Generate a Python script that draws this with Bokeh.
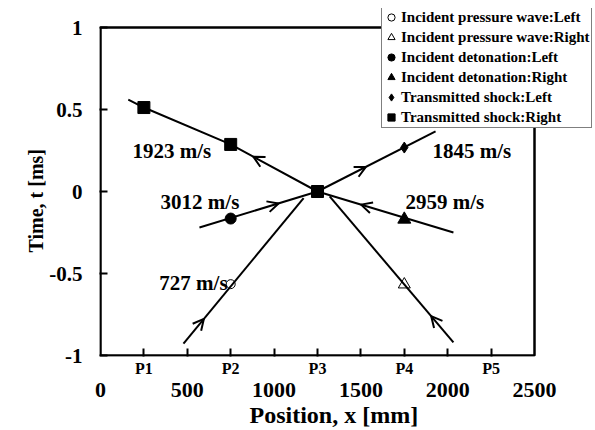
from bokeh.plotting import figure
from bokeh.models import (LinearAxis, FixedTicker, Legend, LegendItem, Arrow,
                          OpenHead, Range1d, Title, BoxAnnotation)
from bokeh.core.properties import value
from bokeh.embed import file_html
from bokeh.resources import INLINE

FONT = "Liberation Serif"

# ---------------- data ----------------
gauge_pos = [250, 750, 1250, 1750, 2250]
gauge_labels = ["P1", "P2", "P3", "P4", "P5"]
x_num_ticks = [0, 500, 1000, 1500, 2000, 2500]
y_ticks = [-1, -0.5, 0, 0.5, 1]
y_tick_labels = ["-1", "-0.5", "0", "0.5", "1"]

# measured points (x in mm, t in ms)
ipw_left_x = [750];  ipw_left_t = [-0.565]
ipw_right_x = [1750]; ipw_right_t = [-0.567]
det_left_x = [750];  det_left_t = [-0.165]
det_right_x = [1750]; det_right_t = [-0.17]
ts_left_x = [1750];  ts_left_t = [0.268]
ts_right_x = [250, 750, 1250]; ts_right_t = [0.512, 0.287, 0.0]

# wave trajectories
line_ts_right_x = [160, 250, 750, 1250]; line_ts_right_t = [0.56, 0.512, 0.287, 0.0]
line_ts_left_x = [1250, 1930];  line_ts_left_t = [0.0, 0.366]
line_det_left_x = [570, 1250];  line_det_left_t = [-0.22, 0.0]
line_det_right_x = [2033, 1250]; line_det_right_t = [-0.25, 0.0]
line_ipw_left_x = [478, 1170];  line_ipw_left_t = [-0.927, -0.04]
line_ipw_right_x = [2033, 1320]; line_ipw_right_t = [-0.92, -0.03]

speed_labels = ["1923 m/s", "3012 m/s", "727 m/s", "1845 m/s", "2959 m/s"]

x_min, x_max = x_num_ticks[0], x_num_ticks[-1]
y_min, y_max = y_ticks[0], y_ticks[-1]

# ---------------- layout (pixels) ----------------
W, H = 595, 430
box_l, box_r, box_t, box_b = 100, 534, 27, 355      # visible axes box
fr_l, fr_r, fr_t, fr_b = 99, 593, 8, 356            # plotting frame (room for legend)
sx = (box_r - box_l) / (x_max - x_min)
sy = (box_b - box_t) / (y_max - y_min)

p = figure(width=W, height=H,
           x_range=Range1d(x_min - (box_l - fr_l) / sx, x_max + (fr_r - box_r) / sx),
           y_range=Range1d(y_min - (fr_b - box_b) / sy, y_max + (box_t - fr_t) / sy),
           output_backend="svg", toolbar_location=None,
           x_axis_type=None, y_axis_type=None,
           min_border_left=fr_l, min_border_right=W - fr_r,
           min_border_top=fr_t, min_border_bottom=H - fr_b)
p.grid.visible = False
p.outline_line_color = None
p.background_fill_color = "white"
p.border_fill_color = "white"

p.add_layout(BoxAnnotation(left=x_min, right=x_max, bottom=y_min, top=y_max,
                           fill_alpha=0, line_color="black", line_alpha=1,
                           line_width=2.5))

def style_axis(ax, size):
    ax.major_label_text_font = FONT
    ax.major_label_text_font_style = "bold"
    ax.major_label_text_font_size = size
    ax.major_label_text_color = "black"
    ax.axis_line_color = None
    ax.minor_tick_line_color = None
    ax.major_tick_line_color = "black"
    ax.major_tick_line_width = 2
    ax.major_tick_in = 8
    ax.major_tick_out = 0

xa1 = LinearAxis(ticker=FixedTicker(ticks=[250 * i for i in range(1, 10)]))
style_axis(xa1, "16px")
overrides = {250 * i: "" for i in range(1, 10)}
overrides.update({g: l for g, l in zip(gauge_pos, gauge_labels)})
xa1.major_label_overrides = overrides
xa1.major_label_standoff = 3
p.add_layout(xa1, "below")

xa2 = LinearAxis(ticker=FixedTicker(ticks=x_num_ticks))
style_axis(xa2, "22px")
xa2.major_tick_line_color = None
xa2.major_tick_in = 0
xa2.major_label_standoff = 3
p.add_layout(xa2, "below")

ya = LinearAxis(ticker=FixedTicker(ticks=y_ticks))
style_axis(ya, "21px")
ya.major_label_overrides = {t: l for t, l in zip(y_ticks, y_tick_labels)}
ya.major_label_standoff = 17
p.add_layout(ya, "left")

# axis titles
p.add_layout(Title(text="Position, x  [mm]", align="left", offset=150, standoff=0,
                   text_font=FONT, text_font_style="bold", text_font_size="24px",
                   text_color="#000000"), "below")
p.add_layout(Title(text="Time, t  [ms]", align="left", offset=104, standoff=0,
                   text_font=FONT, text_font_style="bold", text_font_size="20px",
                   text_color="#000000"), "left")

# ---------------- lines ----------------
for xs, ts in [(line_ts_right_x, line_ts_right_t), (line_ts_left_x, line_ts_left_t),
               (line_det_left_x, line_det_left_t), (line_det_right_x, line_det_right_t),
               (line_ipw_left_x, line_ipw_left_t), (line_ipw_right_x, line_ipw_right_t)]:
    p.line(xs, ts, line_color="black", line_width=2)

# ---------------- arrows ----------------
def add_arrow(xs, ts, i0, i1, f):
    x0, y0, x1, y1 = xs[i0], ts[i0], xs[i1], ts[i1]
    xe, ye = x0 + f * (x1 - x0), y0 + f * (y1 - y0)
    xb, yb = xe - 0.03 * (x1 - x0), ye - 0.03 * (y1 - y0)
    p.add_layout(Arrow(x_start=xb, y_start=yb, x_end=xe, y_end=ye, line_alpha=0,
                       end=OpenHead(size=11, line_width=2, line_color="black")))

add_arrow(line_ts_right_x, line_ts_right_t, 3, 2, 0.74)
add_arrow(line_ts_left_x, line_ts_left_t, 0, 1, 0.41)
add_arrow(line_det_left_x, line_det_left_t, 0, 1, 0.67)
add_arrow(line_det_right_x, line_det_right_t, 0, 1, 0.68)
add_arrow(line_ipw_left_x, line_ipw_left_t, 0, 1, 0.17)
add_arrow(line_ipw_right_x, line_ipw_right_t, 0, 1, 0.18)

# ---------------- markers ----------------
r_ipw_l = p.scatter(ipw_left_x, ipw_left_t, marker="circle", size=9, fill_color=None,
                    line_color="black", line_width=1)
r_ipw_r = p.scatter(ipw_right_x, ipw_right_t, marker="triangle", size=12, fill_color=None,
                    line_color="black", line_width=1)
r_det_l = p.scatter(det_left_x, det_left_t, marker="circle", size=11, fill_color="black",
                    line_color="black")
r_det_r = p.scatter(det_right_x, det_right_t, marker="triangle", size=13, fill_color="black",
                    line_color="black")
r_ts_l = p.scatter(ts_left_x, ts_left_t, marker="diamond", size=11, fill_color="black",
                   line_color="black")
r_ts_r = p.scatter(ts_right_x, ts_right_t, marker="square", size=12, fill_color="black",
                   line_color="black")

# ---------------- speed labels ----------------
lab_x = [184, 346, 732, 1912, 1757]
lab_t = [0.25, -0.067, -0.56, 0.25, -0.067]
lab_align = ["left", "left", "right", "left", "left"]
for s, x, t, a in zip(speed_labels, lab_x, lab_t, lab_align):
    p.text([x], [t], text=[s], text_font=value(FONT), text_font_style="bold",
           text_font_size="21px", text_align=a, text_baseline="middle", text_color="black")

# ---------------- legend ----------------
legend = Legend(items=[
    LegendItem(label="Incident pressure wave:Left", renderers=[r_ipw_l]),
    LegendItem(label="Incident pressure wave:Right", renderers=[r_ipw_r]),
    LegendItem(label="Incident detonation:Left", renderers=[r_det_l]),
    LegendItem(label="Incident detonation:Right", renderers=[r_det_r]),
    LegendItem(label="Transmitted shock:Left", renderers=[r_ts_l]),
    LegendItem(label="Transmitted shock:Right", renderers=[r_ts_r]),
], location=(381 - fr_l, fr_b - 128))
legend.label_text_font = FONT
legend.label_text_font_style = "bold"
legend.label_text_font_size = "15px"
legend.label_text_color = "black"
legend.label_height = 20
legend.label_width = 190
legend.glyph_height = 20
legend.glyph_width = 18
legend.label_standoff = 1
legend.spacing = 0
legend.padding = 0
legend.margin = 0
legend.border_line_color = "black"
legend.border_line_width = 1
legend.background_fill_color = "white"
legend.background_fill_alpha = 1
p.add_layout(legend)

open("out.html", "w").write(file_html(p, INLINE))
